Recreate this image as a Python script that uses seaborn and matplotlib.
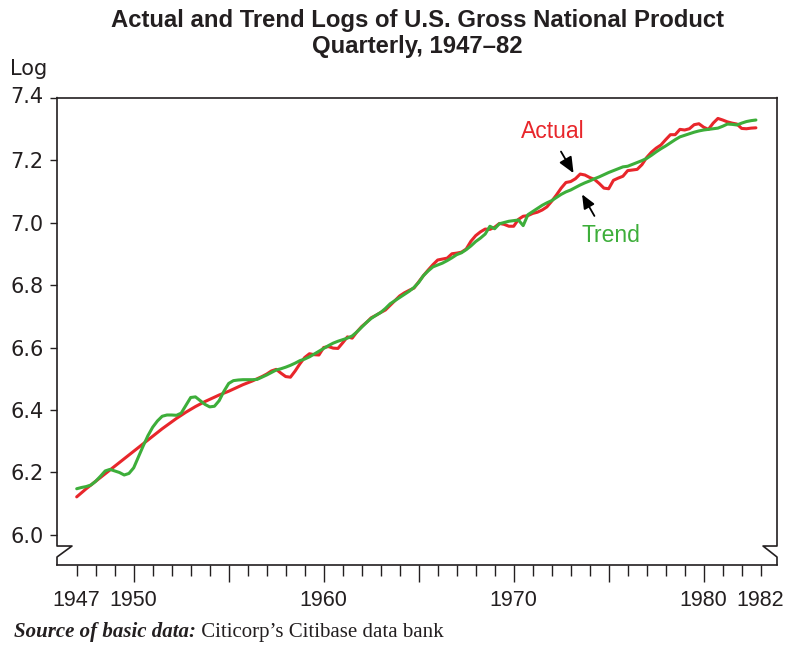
import numpy as np
import pandas as pd
import matplotlib
matplotlib.use("Agg")
import matplotlib.pyplot as plt
import seaborn as sns
from matplotlib.lines import Line2D
from matplotlib import font_manager
from matplotlib.transforms import offset_copy

# Quarterly log values, 1947 Q1 through 1982 Q4 (four values per row = one year)
red_line = [
    6.122, 6.135, 6.148, 6.160,  # 1947
    6.172, 6.184, 6.196, 6.208,  # 1948
    6.220, 6.232, 6.244, 6.256,  # 1949
    6.268, 6.280, 6.292, 6.304,  # 1950
    6.316, 6.328, 6.340, 6.351,  # 1951
    6.362, 6.373, 6.383, 6.393,  # 1952
    6.402, 6.411, 6.419, 6.427,  # 1953
    6.434, 6.441, 6.448, 6.454,  # 1954
    6.460, 6.467, 6.474, 6.481,  # 1955
    6.487, 6.493, 6.500, 6.507,  # 1956
    6.515, 6.525, 6.530, 6.518,  # 1957
    6.507, 6.505, 6.525, 6.548,  # 1958
    6.568, 6.580, 6.577, 6.576,  # 1959
    6.600, 6.603, 6.598, 6.597,  # 1960
    6.615, 6.634, 6.630, 6.650,  # 1961
    6.667, 6.680, 6.695, 6.703,  # 1962
    6.712, 6.720, 6.735, 6.750,  # 1963
    6.765, 6.775, 6.783, 6.790,  # 1964
    6.810, 6.830, 6.848, 6.865,  # 1965
    6.880, 6.883, 6.886, 6.900,  # 1966
    6.902, 6.905, 6.915, 6.940,  # 1967
    6.958, 6.970, 6.979, 6.978,  # 1968
    6.985, 6.997, 6.994, 6.988,  # 1969
    6.988, 7.010, 7.020, 7.022,  # 1970
    7.029, 7.033, 7.040, 7.050,  # 1971
    7.068, 7.088, 7.110, 7.128,  # 1972
    7.131, 7.140, 7.155, 7.152,  # 1973
    7.144, 7.138, 7.125, 7.110,  # 1974
    7.108, 7.135, 7.142, 7.148,  # 1975
    7.166, 7.168, 7.170, 7.185,  # 1976
    7.208, 7.225, 7.238, 7.248,  # 1977
    7.265, 7.281, 7.281, 7.298,  # 1978
    7.296, 7.300, 7.313, 7.316,  # 1979
    7.305, 7.298, 7.318, 7.333,  # 1980
    7.328, 7.322, 7.318, 7.315,  # 1981
    7.301, 7.300, 7.302, 7.303,  # 1982
]

green_line = [
    6.148, 6.152, 6.155, 6.160,  # 1947
    6.172, 6.188, 6.205, 6.210,  # 1948
    6.205, 6.200, 6.192, 6.197,  # 1949
    6.215, 6.250, 6.285, 6.318,  # 1950
    6.345, 6.365, 6.380, 6.384,  # 1951
    6.384, 6.383, 6.390, 6.415,  # 1952
    6.440, 6.442, 6.430, 6.418,  # 1953
    6.410, 6.412, 6.430, 6.460,  # 1954
    6.485, 6.494, 6.496, 6.497,  # 1955
    6.497, 6.497, 6.498, 6.505,  # 1956
    6.512, 6.520, 6.528, 6.532,  # 1957
    6.537, 6.543, 6.550, 6.558,  # 1958
    6.563, 6.570, 6.579, 6.588,  # 1959
    6.597, 6.606, 6.614, 6.620,  # 1960
    6.625, 6.630, 6.637, 6.650,  # 1961
    6.665, 6.680, 6.693, 6.703,  # 1962
    6.712, 6.725, 6.740, 6.750,  # 1963
    6.760, 6.770, 6.780, 6.792,  # 1964
    6.808, 6.830, 6.845, 6.858,  # 1965
    6.864, 6.870, 6.878, 6.887,  # 1966
    6.897, 6.903, 6.913, 6.925,  # 1967
    6.939, 6.950, 6.963, 6.988,  # 1968
    6.980, 6.996, 7.000, 7.004,  # 1969
    7.006, 7.008, 6.990, 7.025,  # 1970
    7.035, 7.045, 7.055, 7.063,  # 1971
    7.070, 7.080, 7.090, 7.098,  # 1972
    7.104, 7.112, 7.120, 7.127,  # 1973
    7.133, 7.140, 7.146, 7.153,  # 1974
    7.160, 7.166, 7.172, 7.178,  # 1975
    7.180, 7.186, 7.192, 7.198,  # 1976
    7.205, 7.215, 7.226, 7.236,  # 1977
    7.245, 7.255, 7.265, 7.274,  # 1978
    7.279, 7.284, 7.289, 7.293,  # 1979
    7.296, 7.298, 7.300, 7.302,  # 1980
    7.308, 7.315, 7.314, 7.312,  # 1981
    7.318, 7.323, 7.326, 7.328,  # 1982
]

quarters = 1947 + np.arange(len(red_line)) / 4.0

y_ticks = [6.0, 6.2, 6.4, 6.6, 6.8, 7.0, 7.2, 7.4]
y_tick_labels = ["6.0", "6.2", "6.4", "6.6", "6.8", "7.0", "7.2", "7.4"]
x_major = [1950, 1955, 1960, 1965, 1970, 1975, 1980]
x_major_labels = ["1950", "", "1960", "", "1970", "", "1980"]
x_minor = [y for y in range(1947, 1984) if y not in x_major]
x_minor_labels = ["1947" if y == 1947 else ("1982" if y == 1983 else "") for y in x_minor]

title_lines = ["Actual and Trend Logs of U.S. Gross National Product",
               "Quarterly, 1947\u201382"]
source_bold = "Source of basic data:"
source_rest = " Citicorp\u2019s Citibase data bank"

RED = "#E8262B"
GREEN = "#3DAE3A"
INK = "#231F20"

sns.set_theme(style="white")
plt.rcParams["font.family"] = ["Liberation Sans", "DejaVu Sans"]
installed = {f.name for f in font_manager.fontManager.ttflist}
narrow = "Liberation Sans Narrow" if "Liberation Sans Narrow" in installed else "Liberation Sans"

df = pd.DataFrame({
    "quarter": np.concatenate([quarters, quarters]),
    "log": red_line + green_line,
    "line": ["red"] * len(red_line) + ["green"] * len(green_line),
})

fig = plt.figure(figsize=(7.87, 6.5), dpi=100)
ax = fig.add_axes([57 / 787, 1 - 565 / 650, 720 / 787, 467.5 / 650])

sns.lineplot(data=df, x="quarter", y="log", hue="line",
             palette={"red": RED, "green": GREEN}, linewidth=2.2,
             legend=False, sort=False, estimator=None, ax=ax)

ax.set_xlim(1945.963, 1983.86)
ax.set_ylim(5.904, 7.4)
ax.set_xlabel("")
ax.set_ylabel("")

# frame: full top/bottom, broken left/right spines near the bottom
for side in ("left", "right"):
    ax.spines[side].set_visible(False)
for side in ("top", "bottom"):
    ax.spines[side].set_color(INK)
    ax.spines[side].set_linewidth(1.2)
ax.add_line(Line2D([0, 0, 0.0208, 0, 0], [1, 0.0406, 0.0406, 0.0171, 0],
                   transform=ax.transAxes, clip_on=False, color=INK, lw=1.2))
ax.add_line(Line2D([1, 1, 0.9806, 1, 1], [1, 0.0406, 0.0406, 0.0171, 0],
                   transform=ax.transAxes, clip_on=False, color=INK, lw=1.2))

ax.set_yticks(y_ticks, y_tick_labels)
ax.tick_params(axis="y", which="major", direction="out", left=True, length=5.3,
               width=1.0, color=INK, pad=4.5, labelsize=15, labelcolor=INK)
for lab in ax.get_yticklabels():
    lab.set_family(["DejaVu Sans"])

ax.set_xticks(x_major, x_major_labels)
ax.set_xticks(x_minor, x_minor_labels, minor=True)
ax.tick_params(axis="x", which="major", direction="out", bottom=True, length=12.5,
               width=1.0, color=INK, pad=5.5, labelsize=15.5, labelcolor=INK)
ax.tick_params(axis="x", which="minor", direction="out", bottom=True, length=8,
               width=1.0, color=INK, pad=10.0, labelsize=15.5, labelcolor=INK)
for lab in ax.get_xticklabels() + ax.get_xticklabels(minor=True):
    lab.set_family([narrow, "Liberation Sans"])

# top tick label sits slightly above its tick
top_label = ax.yaxis.get_major_ticks()[-1].label1
top_label.set_transform(offset_copy(top_label.get_transform(), fig=fig, y=3, units="dots"))

# series labels with pointer arrows
ax.text(1972.07, 7.29, "Actual", color=RED, fontsize=16.5, ha="center", va="center")
ax.annotate("", xy=(1973.15, 7.158), xytext=(1972.49, 7.227),
            arrowprops=dict(arrowstyle="-|>,head_length=0.8,head_width=0.35",
                            color="black", lw=1.3, shrinkA=0, shrinkB=0))
ax.text(1975.12, 6.957, "Trend", color=GREEN, fontsize=16.5, ha="center", va="center")
ax.annotate("", xy=(1973.6, 7.090), xytext=(1974.25, 7.021),
            arrowprops=dict(arrowstyle="-|>,head_length=0.7,head_width=0.3",
                            color="black", lw=1.3, shrinkA=0, shrinkB=0))

fig.text(0.5305, 1 - 20 / 650, title_lines[0], ha="center", va="center",
         fontsize=17.2, fontweight="bold", color=INK, family=[narrow, "Liberation Sans"])
fig.text(0.5305, 1 - 47 / 650, title_lines[1], ha="center", va="center",
         fontsize=17.2, fontweight="bold", color=INK, family=[narrow, "Liberation Sans"])
fig.text(10 / 787, 1 - 75 / 650, "Log", ha="left", va="baseline",
         fontsize=15, color=INK, family=["DejaVu Sans"])

t1 = fig.text(14 / 787, 1 - 642 / 650, source_bold, ha="left", va="bottom",
              fontsize=15, fontweight="bold", style="italic", color=INK,
              family=["Liberation Serif", "DejaVu Serif"])
ax.annotate(source_rest, xy=(1, 0), xycoords=t1, ha="left", va="bottom",
            fontsize=15, color=INK, family=["Liberation Serif", "DejaVu Serif"],
            annotation_clip=False)

fig.savefig("out.png", dpi=100)
